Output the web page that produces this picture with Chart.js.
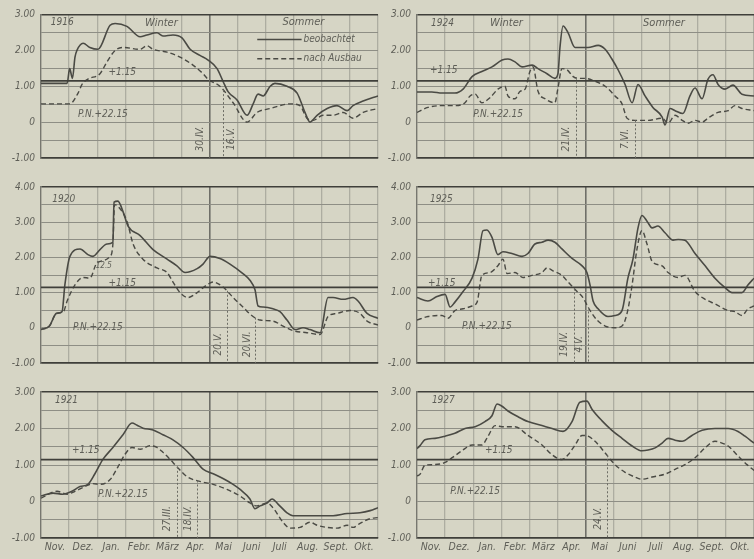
<!DOCTYPE html>
<html><head><meta charset="utf-8">
<script src="https://cdn.jsdelivr.net/npm/chart.js@4.4.1/dist/chart.umd.min.js"></script>
<style>
html,body{margin:0;padding:0;background:#d6d5c5;}
#wrap{position:relative;width:754px;height:559px;overflow:hidden;background:#d6d5c5;}
canvas{position:absolute;}
</style></head><body><div id="wrap"></div>
<script>
// ---- data ----
const months = ['Nov.','Dez.','Jan.','Febr.','März','Apr.','Mai','Juni','Juli','Aug.','Sept.','Okt.'];
const years = ['1916','1920','1921','1924','1925','1927'];
const level = 1.15;
const levelLabel = '+1.15';
const pnLabel = 'P.N.+22.15';
const seriesNames = ['beobachtet','nach Ausbau'];

const obs1916 = [[0,1.08],[0.93,1.08],[1.02,1.49],[1.12,1.22],[1.21,1.81],[1.28,2.0],[1.50,2.2],[1.74,2.08],[2.03,2.03],[2.46,2.7],[2.64,2.75],[3.06,2.67],[3.53,2.38],[3.77,2.43],[4.13,2.49],[4.34,2.4],[4.70,2.43],[5.02,2.35],[5.31,2.03],[5.66,1.86],[5.95,1.73],[6.27,1.49],[6.48,1.14],[6.66,0.85],[6.98,0.62],[7.34,0.19],[7.55,0.5],[7.73,0.78],[7.91,0.73],[8.16,1.0],[8.33,1.08],[8.76,1.0],[9.12,0.81],[9.40,0.27],[9.58,0.0],[9.83,0.19],[10.19,0.38],[10.54,0.46],[10.90,0.32],[11.11,0.46],[11.47,0.59],[12.0,0.73]];
const aus1916 = [[0,0.51],[1.03,0.51],[1.32,0.81],[1.46,1.05],[1.67,1.2],[2.10,1.35],[2.35,1.68],[2.64,2.0],[2.92,2.08],[3.53,2.03],[3.77,2.13],[3.99,2.03],[4.49,1.95],[4.95,1.81],[5.41,1.59],[5.77,1.35],[5.95,1.19],[6.37,1.0],[6.84,0.54],[7.34,0.0],[7.69,0.27],[8.16,0.38],[8.87,0.51],[9.22,0.46],[9.47,0.11],[9.69,0.05],[10.04,0.19],[10.40,0.19],[10.76,0.27],[11.11,0.11],[11.47,0.27],[12.0,0.38]];
const marks1916 = [[5.97,'30.IV.'],[6.48,'16.V.']];

const obs1920 = [[0,-0.05],[0.3,0.05],[0.55,0.41],[0.75,0.46],[0.85,1.22],[1.03,2.03],[1.39,2.24],[1.67,2.08],[1.85,2.03],[2.10,2.22],[2.35,2.38],[2.56,2.43],[2.60,3.57],[2.74,3.6],[2.92,3.3],[3.10,2.89],[3.53,2.62],[3.99,2.22],[4.49,1.95],[4.84,1.76],[5.13,1.57],[5.56,1.68],[5.77,1.81],[6.02,2.03],[6.37,1.97],[6.73,1.81],[7.19,1.54],[7.44,1.35],[7.62,1.08],[7.73,0.62],[7.91,0.59],[8.26,0.54],[8.51,0.46],[8.76,0.22],[9.05,-0.05],[9.33,0.0],[9.58,-0.05],[9.94,-0.14],[10.22,0.86],[10.40,0.86],[10.76,0.81],[11.11,0.86],[11.29,0.76],[11.61,0.41],[12.0,0.27]];
const aus1920 = [[0,-0.05],[0.3,0.05],[0.55,0.41],[0.8,0.46],[0.93,0.76],[1.21,1.22],[1.50,1.43],[1.74,1.41],[1.99,1.84],[2.46,2.03],[2.56,2.38],[2.62,3.5],[2.74,3.45],[3.06,3.03],[3.28,2.38],[3.63,1.95],[4.13,1.70],[4.49,1.57],[4.70,1.30],[4.95,1.0],[5.24,0.86],[5.56,1.0],[5.91,1.22],[6.13,1.30],[6.48,1.16],[6.84,0.86],[7.19,0.59],[7.55,0.32],[7.80,0.22],[8.26,0.19],[8.62,0.05],[8.97,-0.08],[9.47,-0.14],[9.94,-0.19],[10.22,0.32],[10.54,0.41],[11.0,0.49],[11.36,0.41],[11.61,0.19],[12.0,0.08]];
const marks1920 = [[6.61,'20.V.'],[7.63,'20.VI.']];

const obs1921 = [[0,0.15],[0.43,0.23],[0.78,0.2],[1.10,0.28],[1.39,0.41],[1.67,0.47],[1.92,0.76],[2.21,1.16],[2.56,1.48],[2.92,1.83],[3.24,2.15],[3.42,2.09],[3.63,2.01],[3.99,1.96],[4.34,1.83],[4.70,1.69],[5.06,1.48],[5.41,1.21],[5.77,0.89],[6.13,0.76],[6.48,0.63],[6.84,0.47],[7.09,0.33],[7.44,0.07],[7.62,-0.2],[7.80,-0.12],[8.05,-0.04],[8.23,0.07],[8.44,-0.07],[8.76,-0.31],[8.97,-0.39],[9.47,-0.39],[9.94,-0.39],[10.40,-0.39],[10.90,-0.33],[11.36,-0.31],[11.72,-0.25],[12.0,-0.17]];
const aus1921 = [[0,0.09],[0.57,0.28],[0.93,0.2],[1.21,0.28],[1.57,0.41],[1.85,0.49],[2.10,0.47],[2.46,0.6],[2.74,0.95],[2.99,1.29],[3.24,1.48],[3.53,1.43],[3.88,1.53],[4.13,1.48],[4.34,1.35],[4.59,1.16],[4.84,0.95],[5.20,0.68],[5.66,0.55],[6.13,0.47],[6.62,0.33],[7.09,0.15],[7.44,-0.04],[7.69,-0.12],[8.05,-0.04],[8.26,-0.17],[8.62,-0.57],[8.87,-0.73],[9.22,-0.71],[9.58,-0.57],[9.83,-0.65],[10.19,-0.71],[10.54,-0.73],[10.90,-0.65],[11.11,-0.71],[11.36,-0.6],[11.72,-0.47],[12.0,-0.44]];
const marks1921 = [[4.84,'27.III.'],[5.57,'18.IV.']];

const obs1924 = [[0,0.84],[0.53,0.84],[0.89,0.81],[1.35,0.81],[1.64,0.92],[1.96,1.27],[2.31,1.41],[2.67,1.54],[3.03,1.73],[3.24,1.76],[3.49,1.68],[3.74,1.54],[4.10,1.59],[4.31,1.49],[4.63,1.35],[4.91,1.22],[5.02,1.35],[5.09,2.08],[5.20,2.68],[5.38,2.49],[5.63,2.08],[6.09,2.08],[6.45,2.14],[6.70,2.03],[6.94,1.76],[7.16,1.46],[7.41,1.05],[7.66,0.54],[7.87,1.05],[8.12,0.73],[8.40,0.41],[8.73,0.14],[8.83,-0.08],[9.01,0.38],[9.19,0.32],[9.47,0.24],[9.72,0.73],[9.90,0.95],[10.15,0.65],[10.36,1.19],[10.54,1.32],[10.72,1.05],[10.97,0.92],[11.25,1.03],[11.57,0.78],[12.0,0.73]];
const aus1924 = [[0,0.27],[0.39,0.41],[0.89,0.46],[1.35,0.46],[1.71,0.54],[1.89,0.73],[2.07,0.78],[2.31,0.54],[2.60,0.68],[2.88,0.92],[3.13,1.0],[3.24,0.73],[3.49,0.65],[3.67,0.86],[3.85,0.92],[4.02,1.41],[4.13,1.54],[4.31,0.86],[4.56,0.65],[4.91,0.54],[5.02,0.95],[5.16,1.49],[5.34,1.46],[5.56,1.27],[5.73,1.22],[5.98,1.22],[6.34,1.14],[6.70,1.0],[7.05,0.73],[7.30,0.51],[7.48,0.11],[7.76,0.05],[8.23,0.05],[8.73,0.11],[8.94,-0.03],[9.19,0.19],[9.44,0.05],[9.65,-0.03],[9.90,0.05],[10.15,0.0],[10.36,0.11],[10.72,0.27],[11.08,0.32],[11.32,0.46],[11.57,0.38],[12.0,0.32]];
const marks1924 = [[5.67,'21.IV.'],[7.75,'7.VI.']];

const obs1925 = [[0,0.86],[0.39,0.76],[0.71,0.89],[1.0,0.95],[1.18,0.59],[1.35,0.73],[1.64,1.03],[1.96,1.41],[2.17,1.95],[2.35,2.76],[2.49,2.78],[2.67,2.57],[2.88,2.08],[3.06,2.16],[3.38,2.11],[3.74,2.03],[3.95,2.11],[4.20,2.38],[4.45,2.43],[4.67,2.49],[4.91,2.43],[5.16,2.24],[5.52,1.97],[5.88,1.76],[6.05,1.57],[6.16,1.22],[6.27,0.76],[6.45,0.54],[6.80,0.32],[7.05,0.35],[7.30,0.49],[7.51,1.41],[7.69,1.95],[7.87,2.84],[8.01,3.19],[8.19,3.03],[8.37,2.84],[8.58,2.89],[8.83,2.70],[9.12,2.49],[9.30,2.51],[9.54,2.49],[9.90,2.11],[10.26,1.76],[10.61,1.41],[10.97,1.14],[11.22,1.0],[11.57,1.0],[11.79,1.22],[12.0,1.41]];
const aus1925 = [[0,0.22],[0.39,0.32],[0.89,0.35],[1.10,0.27],[1.35,0.49],[1.64,0.54],[1.96,0.62],[2.14,0.73],[2.31,1.49],[2.60,1.57],[2.88,1.76],[3.06,1.95],[3.21,1.54],[3.49,1.57],[3.77,1.43],[4.10,1.49],[4.45,1.57],[4.63,1.70],[4.84,1.62],[5.16,1.49],[5.38,1.30],[5.70,1.03],[5.91,0.86],[6.09,0.59],[6.23,0.41],[6.41,0.22],[6.70,0.05],[7.05,0.0],[7.30,0.05],[7.48,0.41],[7.66,1.22],[7.83,2.22],[8.01,2.76],[8.19,2.38],[8.37,1.89],[8.73,1.76],[8.94,1.57],[9.30,1.43],[9.54,1.49],[9.90,1.03],[10.26,0.81],[10.61,0.68],[11.08,0.49],[11.32,0.46],[11.57,0.35],[11.79,0.54],[12.0,0.62]];
const marks1925 = [[5.6,'19.IV.'],[6.1,'4.V.']];

const obs1927 = [[0,1.45],[0.11,1.53],[0.28,1.69],[0.64,1.73],[1.0,1.79],[1.35,1.87],[1.71,2.0],[2.07,2.05],[2.42,2.19],[2.67,2.35],[2.85,2.67],[3.03,2.61],[3.24,2.48],[3.60,2.32],[3.95,2.19],[4.45,2.08],[4.81,2.0],[5.20,1.92],[5.52,2.19],[5.80,2.72],[6.05,2.75],[6.23,2.53],[6.59,2.21],[6.94,1.95],[7.30,1.73],[7.66,1.52],[8.01,1.39],[8.23,1.41],[8.48,1.47],[8.73,1.60],[8.94,1.73],[9.19,1.68],[9.44,1.65],[9.79,1.81],[10.15,1.95],[10.61,2.0],[11.08,2.0],[11.43,1.92],[11.68,1.79],[12.0,1.60]];
const aus1927 = [[0,0.7],[0.11,0.75],[0.28,0.99],[0.57,1.01],[1.0,1.07],[1.25,1.2],[1.60,1.39],[1.96,1.55],[2.31,1.55],[2.53,1.79],[2.78,2.08],[3.03,2.05],[3.49,2.05],[3.95,1.81],[4.45,1.55],[4.81,1.28],[5.16,1.15],[5.38,1.28],[5.63,1.55],[5.88,1.81],[6.09,1.79],[6.34,1.65],[6.70,1.33],[7.05,1.01],[7.41,0.8],[7.76,0.67],[8.01,0.61],[8.37,0.67],[8.83,0.75],[9.19,0.88],[9.54,1.01],[9.90,1.2],[10.26,1.47],[10.61,1.65],[10.86,1.60],[11.08,1.52],[11.43,1.25],[11.75,1.01],[12.0,0.85]];
const marks1927 = [[6.77,'24.V.']];

// ---- style / layout ----
const BG = '#d6d5c5', INK = '#4a4a44', TXT = '#5e5e57', GRIDH = '#8e8e85', GRIDV = '#adada1', DARK = '#3f3f3a';
const FONT = '"Liberation Sans Narrow","DejaVu Sans Condensed","Roboto Condensed","Liberation Sans",sans-serif';
const rows = [{top:0,h:170,padTop:14.5,plotBottom:163,yMax:3},{top:175,h:200,padTop:8,plotBottom:192,yMax:4},{top:380,h:179,padTop:7.5,plotBottom:158,yMax:3}];
const cols = [{left:0,w:380,yW:41,padR:2},{left:376,w:378,yW:41,padR:0}];

const panels = [
 {col:0,row:0,year:years[0],obs:obs1916,aus:aus1916,marks:marks1916,markOff:[-9,8],
  texts:[[years[0],0.35,2.78],['Winter',3.7,2.76,11],['Sommer',8.6,2.8,11],[levelLabel,2.4,1.38],[pnLabel,1.32,0.22]],legend:[7.7,9.28,2.3,1.77]},
 {col:0,row:1,year:years[1],obs:obs1920,aus:aus1920,marks:marks1920,markOff:[-9,-8],
  texts:[[years[1],0.4,3.65],[levelLabel,2.4,1.27],[pnLabel,1.14,0.0],['12.5',1.95,1.75,8]]},
 {col:0,row:2,year:years[2],obs:obs1921,aus:aus1921,marks:marks1921,markOff:[-10,-9],months:true,
  texts:[[years[2],0.5,2.76],[levelLabel,1.1,1.4],[pnLabel,2.03,0.2]]},
 {col:1,row:0,year:years[3],obs:obs1924,aus:aus1924,marks:marks1924,markOff:[-10,-10],
  texts:[[years[3],0.5,2.76],['Winter',2.6,2.76,11],['Sommer',8.05,2.76,11],[levelLabel,0.46,1.44],[pnLabel,2.0,0.22]]},
 {col:1,row:1,year:years[4],obs:obs1925,aus:aus1925,marks:marks1925,markOff:[-10,-9],
  texts:[[years[4],0.46,3.65],[levelLabel,0.39,1.27],[pnLabel,1.6,0.05]]},
 {col:1,row:2,year:years[5],obs:obs1927,aus:aus1927,marks:marks1927,markOff:[-9],months:true,
  texts:[[years[5],0.53,2.76],[levelLabel,2.42,1.41],[pnLabel,1.18,0.28]]}
];

function interp(arr, x){
  for(let i=1;i<arr.length;i++){ if(arr[i][0]>=x){ const a=arr[i-1],b=arr[i]; const t=(x-a[0])/((b[0]-a[0])||1); return a[1]+t*(b[1]-a[1]); } }
  return arr[arr.length-1][1];
}
const toXY = a => a.map(p=>({x:p[0],y:p[1]}));

const annot = {
  id:'annot',
  afterDatasetsDraw(chart, args, opts){
    const p = opts.panel; const ctx = chart.ctx; const xs = chart.scales.x, ys = chart.scales.y;
    ctx.save();
    ctx.fillStyle = TXT; ctx.textBaseline = 'middle';
    p.marks.forEach((m,i)=>{
      const px = Math.round(xs.getPixelForValue(m[0]))+0.5;
      const top = ys.getPixelForValue(interp(p.aus, m[0]));
      const bot = ys.getPixelForValue(-1);
      ctx.strokeStyle = '#6c6c64'; ctx.lineWidth = 1; ctx.setLineDash([2,2]);
      ctx.beginPath(); ctx.moveTo(px, top); ctx.lineTo(px, bot); ctx.stroke(); ctx.setLineDash([]);
      ctx.save();
      ctx.translate(px + (p.markOff[i]||-9), ys.getPixelForValue(-0.47));
      ctx.rotate(-Math.PI/2); ctx.textAlign='center';
      ctx.font = `italic 10px ${FONT}`; ctx.fillText(m[1],0,0);
      ctx.restore();
    });
    ctx.textAlign = 'left';
    p.texts.forEach(t=>{
      ctx.font = `italic ${t[3]||10}px ${FONT}`;
      ctx.fillText(t[0], xs.getPixelForValue(t[1]), ys.getPixelForValue(t[2]));
    });
    if(p.legend){
      const [x0,x1,y0,y1] = p.legend;
      const a = xs.getPixelForValue(x0), b = xs.getPixelForValue(x1);
      ctx.strokeStyle = INK; ctx.lineWidth = 1.5;
      ctx.beginPath(); ctx.moveTo(a, ys.getPixelForValue(y0)); ctx.lineTo(b, ys.getPixelForValue(y0)); ctx.stroke();
      ctx.setLineDash([5,3]);
      ctx.beginPath(); ctx.moveTo(a, ys.getPixelForValue(y1)); ctx.lineTo(b, ys.getPixelForValue(y1)); ctx.stroke();
      ctx.setLineDash([]);
      ctx.font = `italic 10px ${FONT}`;
      ctx.fillText(seriesNames[0], b+2, ys.getPixelForValue(y0));
      ctx.fillText(seriesNames[1], b+2, ys.getPixelForValue(y1));
    }
    ctx.restore();
  }
};

const wrap = document.getElementById('wrap');
panels.forEach(p=>{
  const r = rows[p.row], c = cols[p.col];
  const cv = document.createElement('canvas');
  cv.width = c.w; cv.height = r.h; cv.style.left = c.left+'px'; cv.style.top = r.top+'px';
  wrap.appendChild(cv);
  const yMax = r.yMax, yMin = -1;
  const scales = {
    x: {type:'linear', min:0, max:12, position:'bottom', weight:0,
        ticks:{display:false, stepSize:1, autoSkip:false, maxTicksLimit:20},
        grid:{drawTicks:false, color:ctx=> ctx.tick && ctx.tick.value===6 ? '#6f6f68' : GRIDV, lineWidth:ctx=> ctx.tick && ctx.tick.value===6 ? 1.6 : 1.3},
        border:{display:true, color:DARK, width:1.6},
        afterFit: s=>{ s.height = p.months ? 0 : (r.h - r.plotBottom); }},
    y: {type:'linear', min:yMin, max:yMax, position:'left',
        ticks:{stepSize:0.5, autoSkip:false, maxTicksLimit:20, padding:6, color:TXT,
               font:{family:FONT, size:10, style:'italic'},
               callback:v=> Math.abs(v-Math.round(v))<1e-6 ? (Math.round(v)===0 ? '0' : (Math.round(v)<0?'-':'')+Math.abs(Math.round(v)).toFixed(2)) : ''},
        grid:{drawTicks:false, color:ctx=> ctx.tick && (ctx.tick.value===yMax||ctx.tick.value===yMin) ? DARK : GRIDH, lineWidth:ctx=> ctx.tick && (ctx.tick.value===yMax||ctx.tick.value===yMin) ? 1.5 : 1},
        border:{display:true, color:'#77776f', width:1.3},
        afterFit: s=>{ s.width = c.yW; }}
  };
  if(p.months){
    scales.x2 = {type:'linear', min:0, max:12, position:'bottom', weight:1,
      grid:{display:false, drawTicks:false}, border:{display:false},
      afterBuildTicks: s=>{ s.ticks = months.map((m,i)=>({value:i+0.5})); },
      ticks:{autoSkip:false, maxRotation:0, minRotation:0, padding:3, color:TXT,
             font:{family:FONT, size:10.5, style:'italic'}, callback:(v,i)=>months[i]},
      afterFit: s=>{ s.height = r.h - r.plotBottom; }};
  }
  new Chart(cv, {
    type:'line',
    data:{datasets:[
      {label:'level', data:toXY([[0,level],[12,level]]), borderColor:DARK, borderWidth:1.8, pointRadius:0},
      {label:seriesNames[0], data:toXY(p.obs), borderColor:INK, borderWidth:1.6, pointRadius:0, cubicInterpolationMode:'monotone'},
      {label:seriesNames[1], data:toXY(p.aus), borderColor:INK, borderWidth:1.4, borderDash:[5,3], pointRadius:0, cubicInterpolationMode:'monotone'}
    ]},
    options:{responsive:false, animation:false, devicePixelRatio:1,
      layout:{padding:{top:r.padTop, right:c.padR, left:0, bottom:0}},
      plugins:{legend:{display:false}, tooltip:{enabled:false}, annot:{panel:p}},
      scales},
    plugins:[annot]
  });
});
</script></body></html>
